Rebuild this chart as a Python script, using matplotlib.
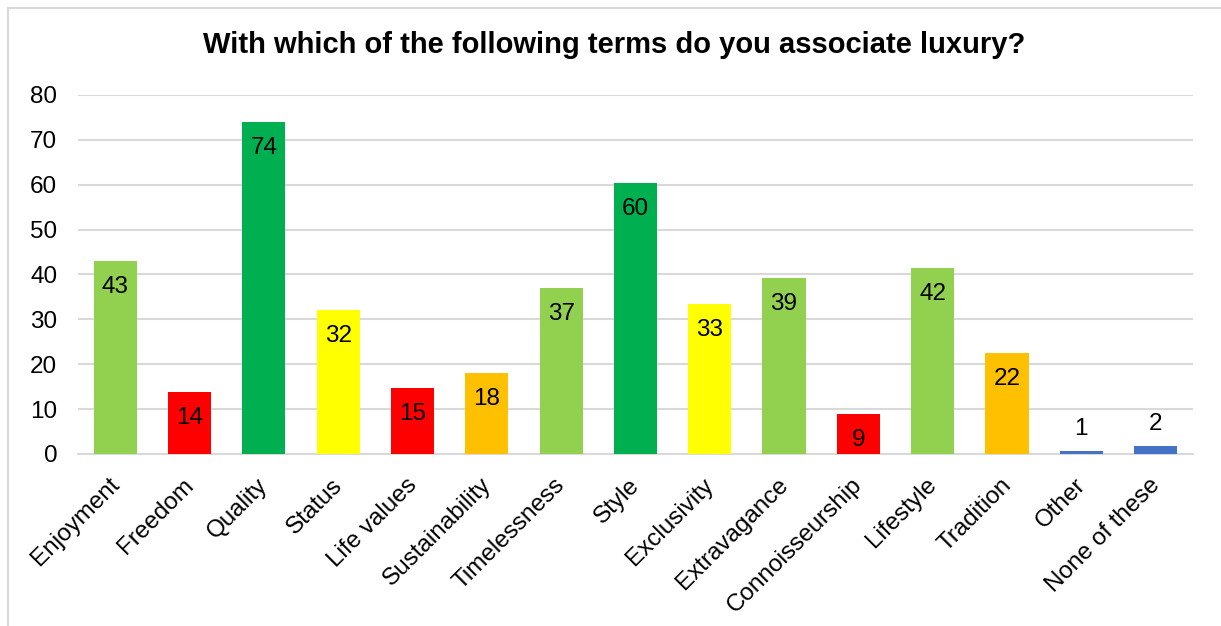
import matplotlib.pyplot as plt
import matplotlib.transforms as mtransforms
from matplotlib.lines import Line2D

plt.rcParams['font.family'] = ['Liberation Sans', 'DejaVu Sans']

# survey answers (bar heights)
terms = ['Enjoyment', 'Freedom', 'Quality', 'Status', 'Life values', 'Sustainability',
         'Timelessness', 'Style', 'Exclusivity', 'Extravagance', 'Connoisseurship',
         'Lifestyle', 'Tradition', 'Other', 'None of these']
values = [43.0, 13.9, 74.0, 32.1, 14.8, 18.0, 37.0, 60.4, 33.4, 39.2, 9.0, 41.5, 22.4, 0.6, 1.8]
colors = ['#92D050', '#FF0000', '#00B050', '#FFFF00', '#FF0000', '#FFC000', '#92D050',
          '#00B050', '#FFFF00', '#92D050', '#FF0000', '#92D050', '#FFC000', '#4472C4', '#4472C4']

fig = plt.figure(figsize=(12.21, 6.26), dpi=100)
ax = fig.add_axes([0.0639, 0.2748, 0.913, 0.5735])

x = range(len(terms))
ax.bar(x, values, width=0.58, color=colors, zorder=3)

for i, v in zip(x, values):
    if v > 5:
        ax.text(i, v - 5.8, '%.0f' % v, ha='center', va='center', fontsize=17.5, zorder=4)
    else:
        ax.text(i, v + 4.9, '%.0f' % v, ha='center', va='center', fontsize=17.5, zorder=4)

ax.set_xlim(-0.5, len(terms) - 0.5)
ax.set_ylim(0, 80)
ax.set_yticks(range(0, 81, 10))
ax.yaxis.grid(True, color='#D9D9D9', linewidth=1.5, zorder=0)
for s in ['top', 'right', 'left']:
    ax.spines[s].set_visible(False)
ax.spines['bottom'].set_color('#D9D9D9')
ax.spines['bottom'].set_linewidth(1.5)
ax.tick_params(axis='both', length=0, labelsize=17.5, colors='black')
ax.tick_params(axis='y', pad=15)
ax.set_xticks(list(x))
ax.set_xticklabels([])

# category labels, rotated 45 degrees and hung below each bar
shift = mtransforms.ScaledTranslation(-7 / 100, -20 / 100, fig.dpi_scale_trans)
trans = ax.get_xaxis_transform() + shift
for i, t in zip(x, terms):
    ax.text(i, 0, t, transform=trans, rotation=45, ha='right', va='top',
            rotation_mode='anchor', fontsize=17.5, clip_on=False)

fig.suptitle('With which of the following terms do you associate luxury?',
             x=0.503, y=0.95, fontsize=21, fontweight='bold')

# chart border (only top and left edges are visible in the crop)
top_y = 1 - 8 / 626
left_x = 8 / 1221
fig.add_artist(Line2D([left_x, 1], [top_y, top_y], transform=fig.transFigure,
                      color='#D9D9D9', linewidth=1.5))
fig.add_artist(Line2D([left_x, left_x], [0, top_y], transform=fig.transFigure,
                      color='#D9D9D9', linewidth=1.5))

fig.savefig('out.png', dpi=100)
